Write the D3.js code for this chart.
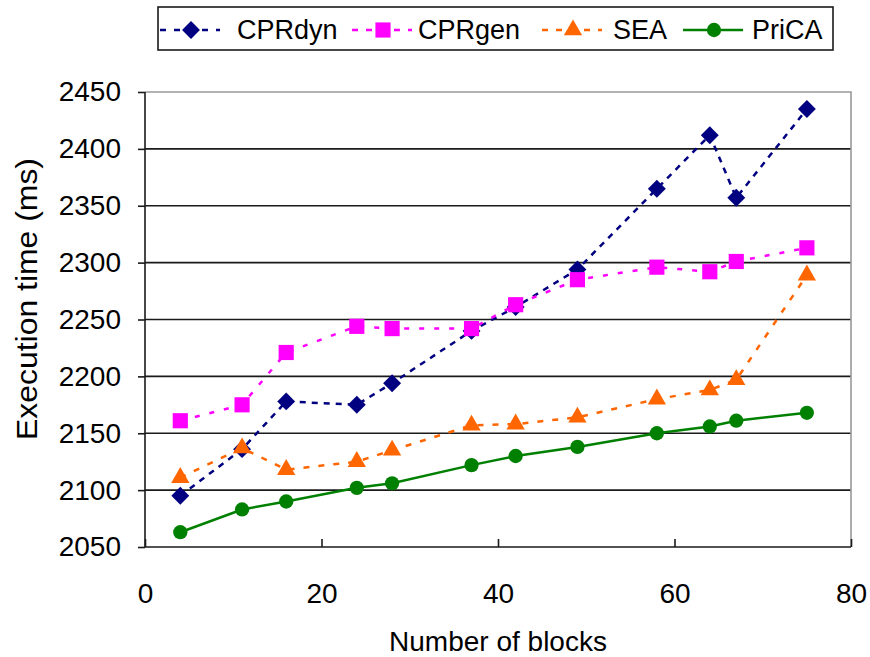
<!DOCTYPE html>
<html>
<head>
<meta charset="utf-8">
<script src="https://cdn.jsdelivr.net/npm/d3@7"></script>
<style>
  body { margin: 0; background: #fff; }
  text { font-family: "Liberation Sans", Arial, sans-serif; fill: #000; }
</style>
</head>
<body>
<svg id="chart" width="870" height="657"></svg>
<script>
// data
const blocks = [4, 11, 16, 24, 28, 37, 42, 49, 58, 64, 67, 75];
const cprDyn = [2095, 2136, 2178, 2175, 2194, 2240, 2261, 2294, 2365, 2412, 2357, 2435];
const cprGen = [2161, 2175, 2221, 2244, 2242, 2242, 2263, 2285, 2296, 2292, 2301, 2313];
const sea    = [2111, 2137, 2118, 2125, 2135, 2157, 2158, 2164, 2180, 2188, 2197, 2289];
const prica  = [2063, 2083, 2090, 2102, 2106, 2122, 2130, 2138, 2150, 2156, 2161, 2168];
const xTicks = [0, 20, 40, 60, 80];
const yTicks = [2050, 2100, 2150, 2200, 2250, 2300, 2350, 2400, 2450];

// rotated square for the diamond marker
const symDiamond = {
  draw(ctx, size) {
    const r = Math.sqrt(size / 2);
    ctx.moveTo(0, -r); ctx.lineTo(r, 0); ctx.lineTo(0, r); ctx.lineTo(-r, 0); ctx.closePath();
  }
};

const series = [
  { name: 'CPRdyn', values: cprDyn, color: '#000080', dash: '6,6', width: 2.5, shape: symDiamond, size: 160 },
  { name: 'CPRgen', values: cprGen, color: '#ff00ff', dash: '5,10', width: 2.5, shape: d3.symbolSquare, size: 230 },
  { name: 'SEA',    values: sea,    color: '#ff6600', dash: '6,9', width: 2.5, shape: d3.symbolTriangle, size: 145 },
  { name: 'PriCA',  values: prica,  color: '#008000', dash: null, width: 2.5, shape: d3.symbolCircle, size: 160 }
];

const svg = d3.select('#chart');
const plot = { left: 145, right: 851, top: 92, bottom: 547 };

const x = d3.scaleLinear().domain([0, 80]).range([plot.left, plot.right]);
const y = d3.scaleLinear().domain([2050, 2450]).range([plot.bottom, plot.top]);

// gridlines
svg.append('g')
  .selectAll('line')
  .data(yTicks.slice(1, -1))
  .join('line')
  .attr('x1', plot.left).attr('x2', plot.right)
  .attr('y1', d => y(d)).attr('y2', d => y(d))
  .attr('stroke', '#1a1a1a').attr('stroke-width', 1.6);

// plot border (top / right)
svg.append('path')
  .attr('d', `M${plot.left},${plot.top}H${plot.right}V${plot.bottom}`)
  .attr('fill', 'none').attr('stroke', '#999').attr('stroke-width', 1.6);

// axes
const xAxis = svg.append('g')
  .attr('transform', `translate(0,${plot.bottom})`)
  .call(d3.axisBottom(x).tickValues(xTicks).tickSize(8).tickPadding(28));
const yAxis = svg.append('g')
  .attr('transform', `translate(${plot.left},0)`)
  .call(d3.axisLeft(y).tickValues(yTicks).tickSize(7).tickFormat(d3.format('d')).tickPadding(17));

[xAxis, yAxis].forEach(a => {
  a.select('.domain').attr('stroke', '#1a1a1a').attr('stroke-width', 1.6);
  a.selectAll('.tick line').attr('stroke', '#1a1a1a').attr('stroke-width', 1.6);
  a.selectAll('text').style('font-size', '28px').attr('fill', '#000')
    .style('font-family', '"Liberation Sans", Arial, sans-serif');
});
xAxis.selectAll('.tick line').attr('y1', -8).attr('y2', 0);
xAxis.select('.domain').attr('d', `M${plot.left},0H${plot.right}`);
yAxis.select('.domain').attr('d', `M0,${plot.top}V${plot.bottom}`);

// axis titles
svg.append('text')
  .attr('x', (plot.left + plot.right) / 2).attr('y', 651)
  .attr('text-anchor', 'middle').style('font-size', '28px')
  .text('Number of blocks');
svg.append('text')
  .attr('transform', `translate(37,299) rotate(-90)`)
  .attr('text-anchor', 'middle').style('font-size', '29px')
  .attr('textLength', 282).attr('lengthAdjust', 'spacingAndGlyphs')
  .text('Execution time (ms)');

// lines + markers
const line = d3.line().x(d => x(d[0])).y(d => y(d[1]));

series.forEach(s => {
  const pts = blocks.map((b, i) => [b, s.values[i]]);
  svg.append('path')
    .datum(pts)
    .attr('d', line)
    .attr('fill', 'none')
    .attr('stroke', s.color)
    .attr('stroke-width', s.width)
    .attr('stroke-dasharray', s.dash);
  svg.append('g')
    .selectAll('path')
    .data(pts)
    .join('path')
    .attr('transform', d => `translate(${x(d[0])},${y(d[1])})`)
    .attr('d', d3.symbol().type(s.shape).size(s.size))
    .attr('fill', s.color);
});

// legend
const legend = svg.append('g');
legend.append('rect')
  .attr('x', 158).attr('y', 7).attr('width', 675).attr('height', 43)
  .attr('fill', '#fff').attr('stroke', '#1a1a1a').attr('stroke-width', 1.6);

const legendX = [160, 352, 542, 683];
const legendTextX = [237, 418, 613, 752];
series.forEach((s, i) => {
  const g = legend.append('g').attr('transform', `translate(${legendX[i]},30)`);
  g.append('line')
    .attr('x1', 0).attr('x2', 60)
    .attr('stroke', s.color).attr('stroke-width', s.width)
    .attr('stroke-dasharray', s.dash ? '6,8' : null);
  g.append('path')
    .attr('transform', 'translate(31,0)')
    .attr('d', d3.symbol().type(s.shape).size(s.size))
    .attr('fill', s.color);
  legend.append('text')
    .attr('x', legendTextX[i]).attr('y', 39)
    .style('font-size', '27px')
    .text(s.name);
});
</script>
</body>
</html>
